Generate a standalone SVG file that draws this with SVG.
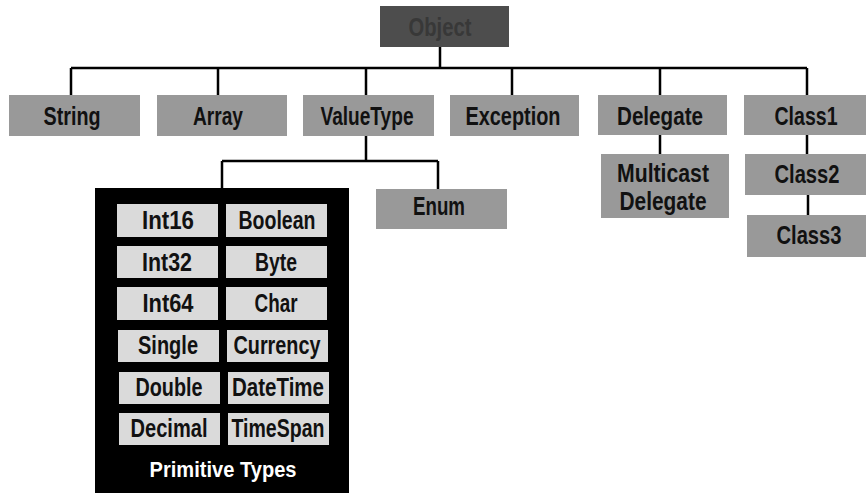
<svg xmlns="http://www.w3.org/2000/svg" width="868" height="495" viewBox="0 0 868 495">
<style>
.box{fill:#999999}
.dark{fill:#4d4d4d}
.cell{fill:#dadada}
.t{font-family:"Liberation Sans",Arial,sans-serif;font-weight:bold;font-size:26px;fill:#111;text-anchor:middle}
.ct{font-family:"Liberation Sans",Arial,sans-serif;font-weight:bold;font-size:25px;fill:#111;text-anchor:middle}
.wt{font-family:"Liberation Sans",Arial,sans-serif;font-weight:bold;font-size:22px;fill:#fff;text-anchor:middle}
.ln{stroke:#000;stroke-width:2.5;fill:none}
</style>
<rect width="868" height="495" fill="#fff"/>
<g id="connectors">
<path class="ln" d="M440 47V68M71 68H807M71 68V95M218 68V95M366 68V95M512 68V95M660 68V95M807 68V95"/>
<path class="ln" d="M366 136V161M222 161H438M222 161V188M438 161V189"/>
<path class="ln" d="M660 135V154M807 135V154M808 195V215"/>
</g>
<g id="Object"><rect class="dark" x="380" y="6" width="129" height="41"/><text class="t" x="440" y="36" textLength="63" lengthAdjust="spacingAndGlyphs" style="fill:#383838">Object</text></g>
<g id="String"><rect class="box" x="9" y="95" width="131" height="41"/><text class="t" x="72" y="125" textLength="57" lengthAdjust="spacingAndGlyphs">String</text></g>
<g id="Array"><rect class="box" x="157" y="95" width="130" height="41"/><text class="t" x="218" y="125" textLength="50" lengthAdjust="spacingAndGlyphs">Array</text></g>
<g id="ValueType"><rect class="box" x="303" y="95" width="131" height="41"/><text class="t" x="367" y="125" textLength="93" lengthAdjust="spacingAndGlyphs">ValueType</text></g>
<g id="Exception"><rect class="box" x="450" y="95" width="129" height="41"/><text class="t" x="513" y="125" textLength="95" lengthAdjust="spacingAndGlyphs">Exception</text></g>
<g id="Delegate"><rect class="box" x="598" y="95" width="129" height="40"/><text class="t" x="660" y="125" textLength="86" lengthAdjust="spacingAndGlyphs">Delegate</text></g>
<g id="Class1"><rect class="box" x="744" y="95" width="122" height="40"/><text class="t" x="806" y="125" textLength="63" lengthAdjust="spacingAndGlyphs">Class1</text></g>
<g id="MulticastDelegate"><rect class="box" x="601" y="154" width="128" height="64"/><text class="t" x="663" y="182" textLength="92" lengthAdjust="spacingAndGlyphs">Multicast</text><text class="t" x="663" y="210" textLength="87" lengthAdjust="spacingAndGlyphs">Delegate</text></g>
<g id="Class2"><rect class="box" x="745" y="154" width="121" height="41"/><text class="t" x="807" y="183" textLength="65" lengthAdjust="spacingAndGlyphs">Class2</text></g>
<g id="Class3"><rect class="box" x="747" y="215" width="119" height="42"/><text class="t" x="809" y="244" textLength="65" lengthAdjust="spacingAndGlyphs">Class3</text></g>
<g id="Enum"><rect class="box" x="376" y="189" width="131" height="40"/><text class="t" x="439" y="215" textLength="52" lengthAdjust="spacingAndGlyphs">Enum</text></g>
<g id="PrimitiveTypes">
<rect x="95" y="188" width="254" height="305" fill="#000"/>
<rect class="cell" x="117" y="204" width="101" height="33"/><text class="ct" x="168" y="229" textLength="52" lengthAdjust="spacingAndGlyphs">Int16</text>
<rect class="cell" x="226" y="204" width="101" height="33"/><text class="ct" x="277" y="229" textLength="77" lengthAdjust="spacingAndGlyphs">Boolean</text>
<rect class="cell" x="117" y="246" width="101" height="32"/><text class="ct" x="167" y="271" textLength="50" lengthAdjust="spacingAndGlyphs">Int32</text>
<rect class="cell" x="226" y="246" width="101" height="32"/><text class="ct" x="276" y="271" textLength="42" lengthAdjust="spacingAndGlyphs">Byte</text>
<rect class="cell" x="117" y="287" width="101" height="33"/><text class="ct" x="168" y="312" textLength="51" lengthAdjust="spacingAndGlyphs">Int64</text>
<rect class="cell" x="226" y="287" width="101" height="33"/><text class="ct" x="276" y="312" textLength="43" lengthAdjust="spacingAndGlyphs">Char</text>
<rect class="cell" x="118" y="330" width="101" height="32"/><text class="ct" x="168" y="354" textLength="60" lengthAdjust="spacingAndGlyphs">Single</text>
<rect class="cell" x="227" y="330" width="101" height="32"/><text class="ct" x="277" y="354" textLength="87" lengthAdjust="spacingAndGlyphs">Currency</text>
<rect class="cell" x="119" y="372" width="101" height="32"/><text class="ct" x="169" y="396" textLength="67" lengthAdjust="spacingAndGlyphs">Double</text>
<rect class="cell" x="228" y="372" width="101" height="32"/><text class="ct" x="278" y="396" textLength="92" lengthAdjust="spacingAndGlyphs">DateTime</text>
<rect class="cell" x="119" y="413" width="101" height="32"/><text class="ct" x="169" y="437" textLength="77" lengthAdjust="spacingAndGlyphs">Decimal</text>
<rect class="cell" x="228" y="413" width="101" height="32"/><text class="ct" x="278" y="437" textLength="93" lengthAdjust="spacingAndGlyphs">TimeSpan</text>
<text class="wt" x="223" y="477" textLength="147" lengthAdjust="spacingAndGlyphs">Primitive Types</text>
</g>
</svg>
